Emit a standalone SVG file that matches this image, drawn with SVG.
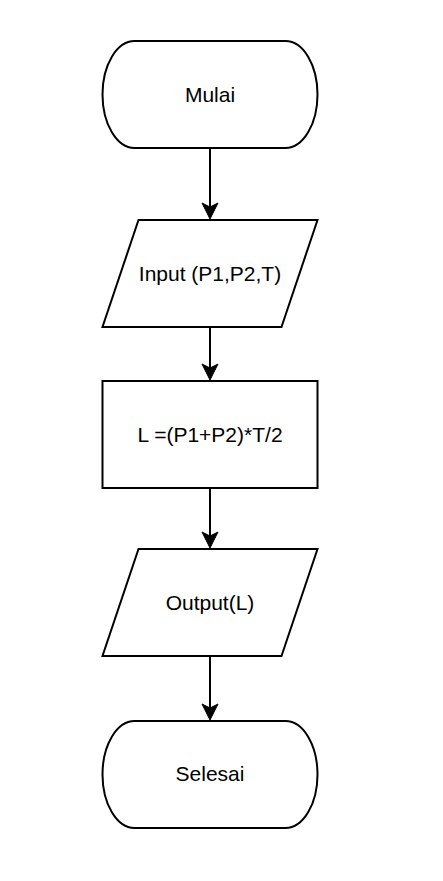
<svg xmlns="http://www.w3.org/2000/svg" width="443" height="881" viewBox="0 0 443 881">
  <style>
    .shape { fill: #ffffff; stroke: #000000; stroke-width: 2; }
    .label { font-family: "Liberation Sans", Arial, sans-serif; font-size: 21px; fill: #000000; text-anchor: middle; }
    .edge { fill: none; stroke: #000000; stroke-width: 2; }
    .head { fill: #000000; stroke: #000000; stroke-width: 1; stroke-linejoin: miter; }
  </style>
  <defs>
    <path id="ah" d="M -8,-16 L 0,0 L 8,-16 L 0,-12 Z"/>
  </defs>
  <rect width="443" height="881" fill="#ffffff"/>
  <g id="connectors">
    <line class="edge" x1="210" y1="148" x2="210" y2="207"/>
    <use href="#ah" class="head" x="210" y="219"/>
    <line class="edge" x1="210" y1="327" x2="210" y2="368"/>
    <use href="#ah" class="head" x="210" y="380"/>
    <line class="edge" x1="210" y1="488" x2="210" y2="536"/>
    <use href="#ah" class="head" x="210" y="548"/>
    <line class="edge" x1="210" y1="656" x2="210" y2="708"/>
    <use href="#ah" class="head" x="210" y="720"/>
  </g>
  <g id="mulai">
    <path class="shape" d="M 134.5,41 H 285.5 A 32,53.5 0 0 1 285.5,148 H 134.5 A 32,53.5 0 0 1 134.5,41 Z"/>
    <text class="label" x="210" y="101.5">Mulai</text>
  </g>
  <g id="input">
    <polygon class="shape" points="138.5,220 317.5,220 281.5,327 102.5,327"/>
    <text class="label" x="210" y="281">Input (P1,P2,T)</text>
  </g>
  <g id="proses">
    <rect class="shape" x="102.5" y="381" width="215" height="107"/>
    <text class="label" x="210" y="441.5">L =(P1+P2)*T/2</text>
  </g>
  <g id="output">
    <polygon class="shape" points="138.5,549 317.5,549 281.5,656 102.5,656"/>
    <text class="label" x="210" y="610">Output(L)</text>
  </g>
  <g id="selesai">
    <path class="shape" d="M 134.5,721 H 285.5 A 32,53.5 0 0 1 285.5,828 H 134.5 A 32,53.5 0 0 1 134.5,721 Z"/>
    <text class="label" x="210" y="781">Selesai</text>
  </g>
</svg>
